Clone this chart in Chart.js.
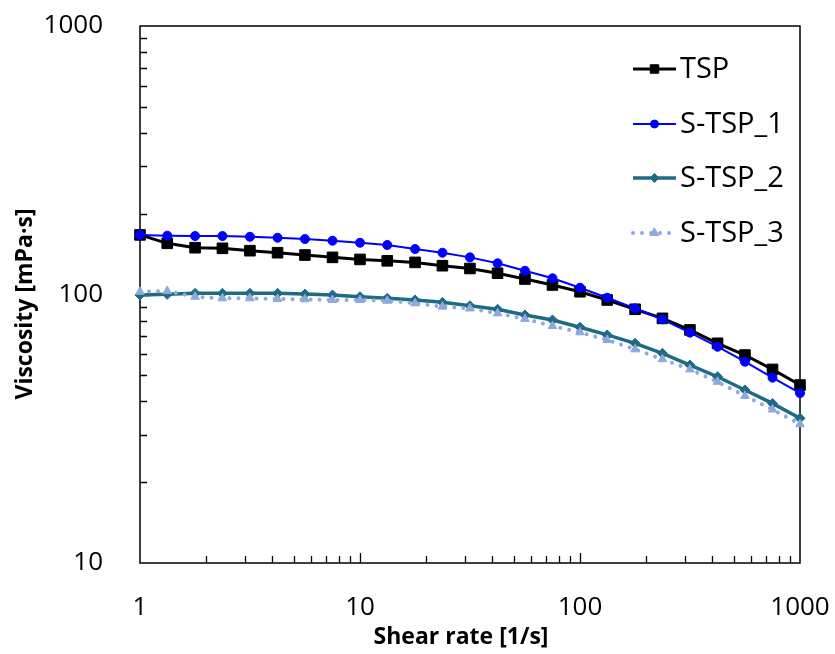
<!DOCTYPE html>
<html>
<head>
<meta charset="utf-8">
<script src="https://cdn.jsdelivr.net/npm/chart.js@4.4.1/dist/chart.umd.min.js"></script>
<style>
  html, body { margin: 0; padding: 0; background: #fff; }
</style>
</head>
<body>
<canvas id="chart" width="835" height="654"></canvas>
<script>
// shear rate points, 8 per decade
const shearRate = [1, 1.33, 1.78, 2.37, 3.16, 4.22, 5.62, 7.5, 10, 13.3, 17.8, 23.7, 31.6,
  42.2, 56.2, 75, 100, 133, 178, 237, 316, 422, 562, 750, 1000];

const tsp = [166.7, 155.1, 149.4, 148.6, 145.6, 143.1, 140.3, 137.5, 135.1, 133.5, 131.7, 128.0, 125.0,
  120.0, 114.2, 108.5, 102.4, 95.4, 88.1, 81.5, 73.8, 65.8, 59.5, 52.6, 46.0];
const stsp1 = [166.7, 165.6, 165.1, 165.1, 164.1, 162.7, 160.9, 158.6, 155.9, 152.9, 147.7, 143.1, 137.5,
  130.7, 122.6, 114.9, 106.0, 97.3, 88.8, 80.8, 72.1, 63.9, 56.2, 49.0, 42.9];
const stsp2 = [99.6, 100.2, 101.0, 101.0, 101.0, 101.0, 100.4, 99.6, 98.1, 96.8, 95.4, 93.5, 90.8,
  88.1, 83.9, 80.4, 75.5, 70.7, 65.8, 60.4, 54.6, 49.4, 44.1, 39.3, 34.6];
const stsp3 = [102.4, 103.0, 98.1, 96.8, 96.8, 96.2, 96.0, 95.4, 95.4, 94.8, 92.7, 90.1, 88.7,
  85.1, 81.1, 76.3, 72.3, 67.7, 62.5, 57.4, 52.6, 47.3, 41.9, 37.3, 32.9];

const seriesNames = ['TSP', 'S-TSP_1', 'S-TSP_2', 'S-TSP_3'];
const xTitle = 'Shear rate [1/s]';
const yTitle = 'Viscosity [mPa·s]';
const xTicks = [1, 2, 3, 4, 5, 6, 7, 8, 9, 10, 20, 30, 40, 50, 60, 70, 80, 90,
  100, 200, 300, 400, 500, 600, 700, 800, 900, 1000];
const yTicks = [10, 20, 30, 40, 50, 60, 70, 80, 90, 100, 200, 300, 400, 500, 600, 700, 800, 900, 1000];

const FONT = "'Open Sans', sans-serif";

function pts(ys) {
  return shearRate.map((x, i) => ({ x: x, y: ys[i] }));
}

const isDecade = v => Math.abs(Math.log10(v) - Math.round(Math.log10(v))) < 1e-9;

// frame, inward tick marks, axis titles and the legend
const decorations = {
  id: 'decorations',
  beforeDatasetsDraw(chart) {
    const ctx = chart.ctx;
    const a = chart.chartArea;
    const xs = chart.scales.x, ys = chart.scales.y;
    ctx.save();
    ctx.strokeStyle = '#000';
    ctx.lineWidth = 1.3;
    ctx.beginPath();
    xTicks.forEach(v => {
      const px = Math.round(xs.getPixelForValue(v)) + 0.5;
      const len = isDecade(v) ? 10 : 7;
      if (v === 1 || v === 1000) return;
      ctx.moveTo(px, a.bottom);
      ctx.lineTo(px, a.bottom - len);
    });
    yTicks.forEach(v => {
      const py = Math.round(ys.getPixelForValue(v)) + 0.5;
      const len = isDecade(v) ? 10 : 7;
      if (v === 10 || v === 1000) return;
      ctx.moveTo(a.left, py);
      ctx.lineTo(a.left + len, py);
    });
    ctx.stroke();
    ctx.lineWidth = 1.5;
    ctx.strokeRect(a.left, a.top, a.right - a.left, a.bottom - a.top);

    // axis titles (sit a little off the plot centre, like the original)
    ctx.fillStyle = '#000';
    ctx.font = "bold 23px " + FONT;
    ctx.textAlign = 'center';
    ctx.textBaseline = 'middle';
    ctx.fillText(xTitle, 461, 637);
    ctx.translate(25, 304);
    ctx.rotate(-Math.PI / 2);
    ctx.fillText(yTitle, 0, 0);
    ctx.restore();
  },
  afterDraw(chart) {
    const ctx = chart.ctx;
    ctx.save();
    const x0 = 633, x1 = 676, textX = 680;
    const rowY = [69, 124, 178, 233];
    chart.data.datasets.forEach((ds, i) => {
      const y = rowY[i];
      ctx.strokeStyle = ds.borderColor;
      ctx.lineWidth = ds.borderWidth;
      ctx.lineCap = ds.borderCapStyle || 'butt';
      ctx.setLineDash(ds.borderDash || []);
      ctx.beginPath();
      ctx.moveTo(x0, y);
      ctx.lineTo(x1, y);
      ctx.stroke();
      ctx.setLineDash([]);
      ctx.fillStyle = ds.pointBackgroundColor;
      ctx.strokeStyle = ds.pointBorderColor;
      ctx.lineWidth = ds.pointBorderWidth;
      Chart.helpers.drawPoint(ctx, {
        pointStyle: ds.pointStyle,
        radius: ds.legendRadius,
        rotation: 0,
        borderWidth: ds.pointBorderWidth
      }, (x0 + x1) / 2, y);
      ctx.fillStyle = '#000';
      ctx.font = "29px " + FONT;
      ctx.textBaseline = 'middle';
      ctx.textAlign = 'left';
      ctx.fillText(ds.label, textX, y + 1);
    });
    ctx.restore();
  }
};

new Chart(document.getElementById('chart'), {
  type: 'line',
  data: {
    datasets: [
      {
        label: seriesNames[0], data: pts(tsp), order: 4,
        borderColor: '#000000', borderWidth: 3,
        pointStyle: 'rect', pointRadius: 7.5, legendRadius: 6,
        pointBackgroundColor: '#000000', pointBorderColor: '#000000', pointBorderWidth: 1
      },
      {
        label: seriesNames[1], data: pts(stsp1), order: 3,
        borderColor: '#0000ff', borderWidth: 2,
        pointStyle: 'circle', pointRadius: 4.5, legendRadius: 4,
        pointBackgroundColor: '#0000ff', pointBorderColor: '#0000ff', pointBorderWidth: 1
      },
      {
        label: seriesNames[2], data: pts(stsp2), order: 2,
        borderColor: '#1f6a85', borderWidth: 3.5,
        pointStyle: 'rectRot', pointRadius: 5, legendRadius: 4.5,
        pointBackgroundColor: '#1f6a85', pointBorderColor: '#1f6a85', pointBorderWidth: 1
      },
      {
        label: seriesNames[3], data: pts(stsp3), order: 1,
        borderColor: '#8eaadb', borderWidth: 4, borderDash: [0.01, 9], borderCapStyle: 'round',
        pointStyle: 'triangle', pointRadius: 5, legendRadius: 5,
        pointBackgroundColor: '#8eaadb', pointBorderColor: '#8eaadb', pointBorderWidth: 1
      }
    ]
  },
  options: {
    responsive: false,
    animation: false,
    devicePixelRatio: 1,
    clip: false,
    layout: { padding: { left: 0, top: 26, right: 35, bottom: 0 } },
    plugins: { legend: { display: false }, tooltip: { enabled: false } },
    elements: { line: { tension: 0 } },
    scales: {
      x: {
        type: 'logarithmic', min: 1, max: 1000,
        border: { display: false },
        grid: { display: false },
        afterBuildTicks: s => { s.ticks = xTicks.map(v => ({ value: v })); },
        afterFit: s => { s.height = 91; s.paddingLeft = 0; s.paddingRight = 0; },
        ticks: {
          autoSkip: false, maxRotation: 0, minRotation: 0, padding: 21,
          color: '#000', font: { family: FONT, size: 26 },
          callback: v => isDecade(v) ? String(v) : ''
        }
      },
      y: {
        type: 'logarithmic', min: 10, max: 1000,
        border: { display: false },
        grid: { display: false },
        afterBuildTicks: s => { s.ticks = yTicks.map(v => ({ value: v })); },
        afterFit: s => { s.width = 140; s.paddingTop = 0; s.paddingBottom = 0; },
        ticks: {
          autoSkip: false, padding: 29,
          color: '#000', font: { family: FONT, size: 26 },
          callback: v => isDecade(v) ? String(v) : ''
        }
      }
    }
  },
  plugins: [decorations]
});
</script>
</body>
</html>
